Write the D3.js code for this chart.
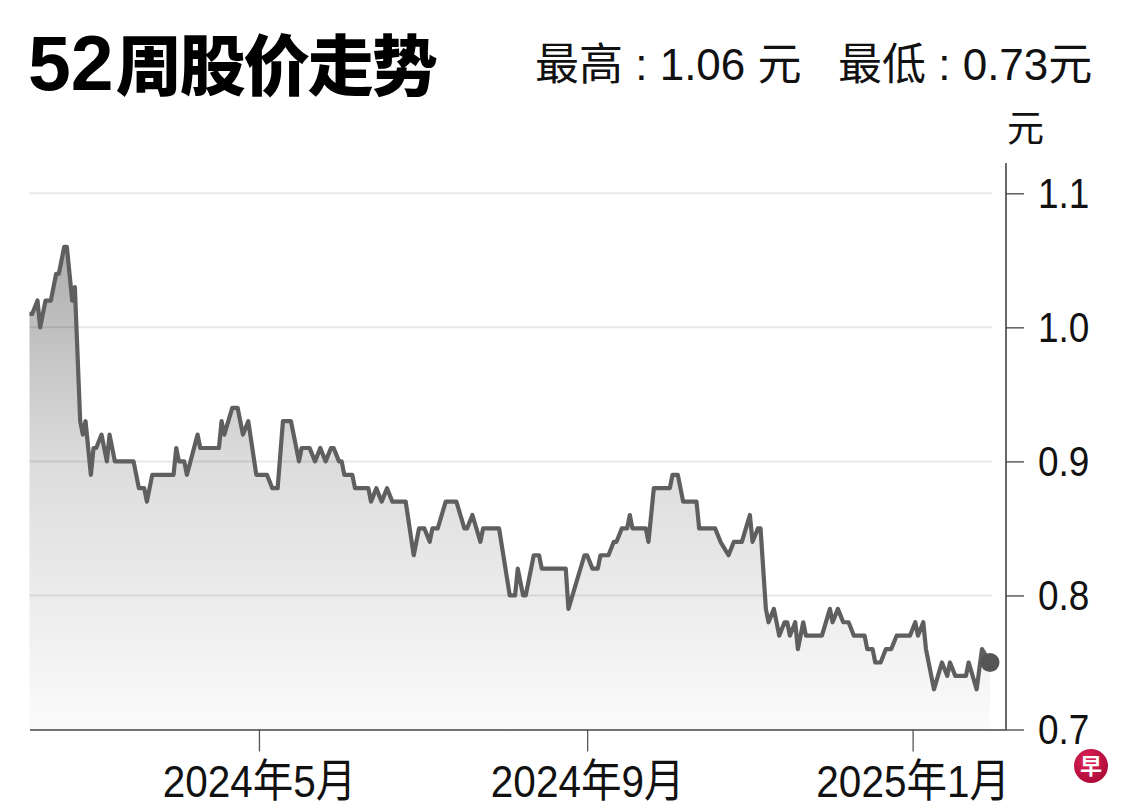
<!DOCTYPE html>
<html>
<head>
<meta charset="utf-8">
<script src="https://cdn.jsdelivr.net/npm/d3@7"></script>
<style>
  html, body { margin: 0; padding: 0; background: #fff; }
  svg { display: block; }
</style>
</head>
<body>
<svg id="chart" width="1140" height="812"></svg>
<script>
// ---- data ----
const dates = [
  "2024-02-05","2024-02-06","2024-02-08","2024-02-09","2024-02-11","2024-02-13","2024-02-15","2024-02-16","2024-02-18","2024-02-19","2024-02-21","2024-02-22","2024-02-24","2024-02-25","2024-02-26","2024-02-28","2024-02-29",
  "2024-03-01","2024-03-03","2024-03-05","2024-03-06","2024-03-08","2024-03-15","2024-03-17","2024-03-19","2024-03-20","2024-03-22","2024-03-30","2024-03-31",
  "2024-04-01","2024-04-03","2024-04-04","2024-04-08","2024-04-09","2024-04-16","2024-04-17","2024-04-18","2024-04-21","2024-04-23","2024-04-25","2024-04-27","2024-04-30",
  "2024-05-04","2024-05-06","2024-05-08","2024-05-10","2024-05-13","2024-05-16","2024-05-17","2024-05-20","2024-05-22","2024-05-24","2024-05-26","2024-05-28","2024-05-29","2024-05-31",
  "2024-06-01","2024-06-02","2024-06-05","2024-06-06","2024-06-11","2024-06-12","2024-06-14","2024-06-16","2024-06-18","2024-06-20","2024-06-25","2024-06-28","2024-06-30",
  "2024-07-02","2024-07-04","2024-07-05","2024-07-07","2024-07-10","2024-07-14","2024-07-17","2024-07-18","2024-07-20","2024-07-23","2024-07-24","2024-07-30",
  "2024-08-03","2024-08-05","2024-08-06","2024-08-08","2024-08-09","2024-08-12","2024-08-14","2024-08-15","2024-08-24","2024-08-25","2024-08-31",
  "2024-09-01","2024-09-03","2024-09-05","2024-09-06","2024-09-09","2024-09-11","2024-09-12","2024-09-14","2024-09-16","2024-09-17","2024-09-18","2024-09-23","2024-09-24","2024-09-26",
  "2024-10-02","2024-10-03","2024-10-05","2024-10-07","2024-10-12","2024-10-13","2024-10-19","2024-10-21","2024-10-24","2024-10-26","2024-10-29",
  "2024-11-01","2024-11-02","2024-11-04","2024-11-05","2024-11-07","2024-11-08","2024-11-10","2024-11-12","2024-11-14","2024-11-15","2024-11-16","2024-11-18","2024-11-19","2024-11-21","2024-11-22","2024-11-28",
  "2024-12-01","2024-12-02","2024-12-04","2024-12-06","2024-12-08","2024-12-10","2024-12-14","2024-12-15","2024-12-17","2024-12-18","2024-12-20","2024-12-22","2024-12-24","2024-12-26","2024-12-31",
  "2025-01-02","2025-01-03","2025-01-05","2025-01-06","2025-01-07","2025-01-09","2025-01-12","2025-01-14","2025-01-15","2025-01-17","2025-01-21","2025-01-22","2025-01-25","2025-01-27","2025-01-30"
];
const prices = [
  1.01,1.01,1.02,1.00,1.02,1.02,1.04,1.04,1.06,1.06,1.02,1.03,0.93,0.92,0.93,0.89,0.91,
  0.91,0.92,0.90,0.92,0.90,0.90,0.88,0.88,0.87,0.89,0.89,0.91,
  0.90,0.90,0.89,0.92,0.91,0.91,0.93,0.92,0.94,0.94,0.92,0.93,0.89,
  0.89,0.88,0.88,0.93,0.93,0.90,0.91,0.91,0.90,0.91,0.90,0.91,0.91,0.90,
  0.90,0.89,0.89,0.88,0.88,0.87,0.88,0.87,0.88,0.87,0.87,0.83,0.85,
  0.85,0.84,0.85,0.85,0.87,0.87,0.85,0.85,0.86,0.84,0.85,0.85,
  0.80,0.80,0.82,0.80,0.80,0.83,0.83,0.82,0.82,0.79,0.83,
  0.83,0.82,0.82,0.83,0.83,0.84,0.84,0.85,0.85,0.86,0.85,0.85,0.84,0.88,
  0.88,0.89,0.89,0.87,0.87,0.85,0.85,0.84,0.83,0.84,0.84,
  0.86,0.84,0.85,0.85,0.79,0.78,0.79,0.77,0.78,0.78,0.77,0.78,0.76,0.78,0.77,0.77,
  0.79,0.78,0.79,0.78,0.78,0.77,0.77,0.76,0.76,0.75,0.75,0.76,0.76,0.77,0.77,
  0.78,0.77,0.78,0.76,0.75,0.73,0.75,0.74,0.75,0.74,0.74,0.75,0.73,0.76,0.75
];
const yTicks = [0.7, 0.8, 0.9, 1.0, 1.1];
const xTickDates = ["2024-05-01", "2024-09-01", "2025-01-01"];
const xTickLabels = ["2024年5月", "2024年9月", "2025年1月"];
const domainDates = ["2024-02-05", "2025-02-05"];
const titleNum = "52";
const titleText = "周股价走势";
const highText = "最高 : 1.06 元";
const lowText = "最低 : 0.73元";
const unitText = "元";

// ---- build ----
const parse = d3.utcParse("%Y-%m-%d");
const data = dates.map((d, i) => ({ date: parse(d), value: prices[i] }));

const svg = d3.select("#chart");
const x = d3.scaleUtc().domain(domainDates.map(parse)).range([29.5, 1006]);
const y = d3.scaleLinear().domain([0.7, 1.1]).range([729.5, 193.3]);

const defs = svg.append("defs");
const grad = defs.append("linearGradient")
  .attr("id", "areaGrad").attr("gradientUnits", "userSpaceOnUse")
  .attr("x1", 0).attr("x2", 0).attr("y1", 240).attr("y2", 730);
grad.append("stop").attr("offset", "0%").attr("stop-color", "#acacac");
grad.append("stop").attr("offset", "45%").attr("stop-color", "#dcdcdc");
grad.append("stop").attr("offset", "100%").attr("stop-color", "#fbfbfb");

const logoGrad = defs.append("radialGradient").attr("id", "logoGrad")
  .attr("cx", "40%").attr("cy", "35%").attr("r", "70%");
logoGrad.append("stop").attr("offset", "0%").attr("stop-color", "#e0245a");
logoGrad.append("stop").attr("offset", "100%").attr("stop-color", "#a90a35");

const numFont = "'Liberation Sans',Arial,'Noto Sans CJK SC',sans-serif";

// area
const area = d3.area().x(d => x(d.date)).y0(y(0.7)).y1(d => y(d.value));
svg.append("path").datum(data).attr("d", area).attr("fill", "url(#areaGrad)");

// gridlines
svg.append("g").selectAll("line")
  .data(yTicks.filter(t => t > 0.7))
  .join("line")
  .attr("x1", 29.5).attr("x2", 992)
  .attr("y1", d => y(d)).attr("y2", d => y(d))
  .attr("stroke", "#000").attr("stroke-opacity", 0.09).attr("stroke-width", 2);

// line
const line = d3.line().x(d => x(d.date)).y(d => y(d.value));
svg.append("path").datum(data).attr("d", line)
  .attr("fill", "none").attr("stroke", "#5f5f5f")
  .attr("stroke-width", 4.2).attr("stroke-linejoin", "round");

// end dot
const last = data[data.length - 1];
svg.append("circle").attr("cx", x(last.date)).attr("cy", y(last.value))
  .attr("r", 9.5).attr("fill", "#555");

// x axis
const xAxis = d3.axisBottom(x)
  .tickValues(xTickDates.map(parse))
  .tickFormat((d, i) => xTickLabels[i])
  .tickSize(22).tickPadding(14).tickSizeOuter(0);
const gx = svg.append("g").attr("transform", `translate(0,${y(0.7)})`).call(xAxis);
gx.select(".domain").attr("stroke", "#444").attr("stroke-width", 1.6);
gx.selectAll(".tick line").attr("stroke", "#555").attr("stroke-width", 1.3);
gx.selectAll(".tick text")
  .attr("fill", "#111")
  .attr("transform", "scale(0.9,1)")
  .style("font-family", numFont)
  .style("font-size", "45px");

// y axis
const yAxis = d3.axisRight(y)
  .tickValues(yTicks)
  .tickFormat(d3.format(".1f"))
  .tickSize(18).tickPadding(14).tickSizeOuter(0);
const gy = svg.append("g").attr("transform", `translate(${x.range()[1]},0)`).call(yAxis);
gy.select(".domain").remove();
gy.append("line").attr("x1", 0).attr("x2", 0).attr("y1", 163).attr("y2", y(0.7))
  .attr("stroke", "#444").attr("stroke-width", 1.6);
gy.selectAll(".tick line").attr("stroke", "#444").attr("stroke-width", 1.3);
gy.selectAll(".tick text")
  .attr("fill", "#111")
  .attr("x", 32 / 0.86)
  .attr("transform", "scale(0.86,1)")
  .style("font-family", numFont)
  .style("font-size", "43px");

// unit label
svg.append("text").attr("x", 1007).attr("y", 142).text(unitText)
  .attr("fill", "#111")
  .style("font-family", "'Noto Sans CJK SC',sans-serif").style("font-size", "37px");

// title
const title = svg.append("text").attr("x", 28).attr("y", 90).attr("fill", "#000");
title.append("tspan").text(titleNum)
  .style("font-family", "'Liberation Sans',Arial,sans-serif")
  .style("font-weight", "700").style("font-size", "77px");
title.append("tspan").text(titleText)
  .attr("dx", 2)
  .style("font-family", "'Noto Sans CJK SC',sans-serif")
  .style("font-weight", "900").style("font-size", "66px")
  .style("letter-spacing", "-2px");

// high / low
svg.append("text").attr("x", 535).attr("y", 80).text(highText)
  .attr("fill", "#111")
  .style("font-family", numFont).style("font-size", "44px");
svg.append("text").attr("x", 838).attr("y", 80).text(lowText)
  .attr("fill", "#111")
  .style("font-family", numFont).style("font-size", "44px");

// logo
svg.append("circle").attr("cx", 1091).attr("cy", 766).attr("r", 17).attr("fill", "url(#logoGrad)");
svg.append("text").attr("x", 1091).attr("y", 774).attr("text-anchor", "middle")
  .text("早").attr("fill", "#fff")
  .style("font-family", "'Noto Sans CJK SC',sans-serif").style("font-weight", "700").style("font-size", "22px");
</script>
</body>
</html>
